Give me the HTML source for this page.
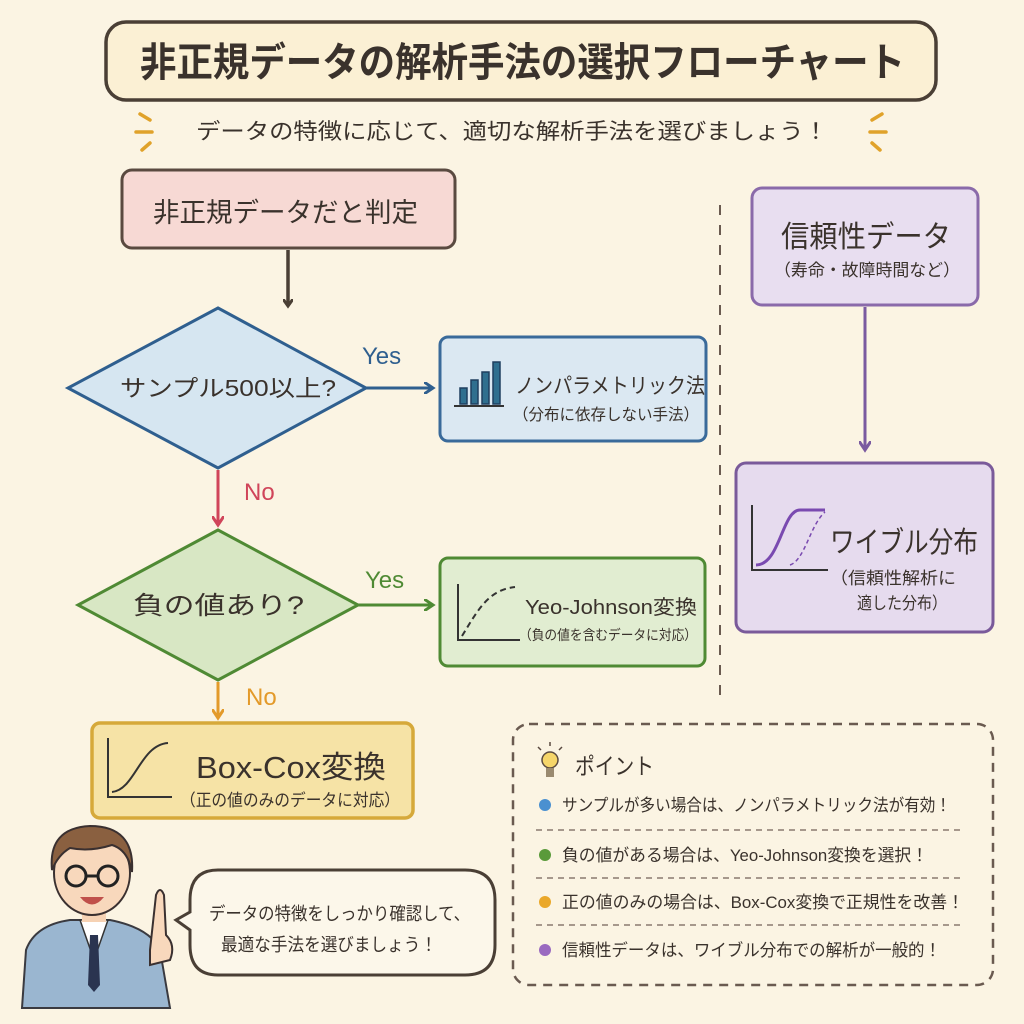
<!DOCTYPE html>
<html><head><meta charset="utf-8"><style>
html,body{margin:0;padding:0;background:#fbf4e3;}
svg{display:block;}
text{font-family:"Liberation Sans","Noto Sans CJK JP",sans-serif;fill:#3a322c;}
</style></head><body>
<svg width="1024" height="1024" viewBox="0 0 1024 1024" xmlns="http://www.w3.org/2000/svg">
<defs>
<marker id="ad" markerWidth="10" markerHeight="10" refX="6" refY="5" orient="auto" markerUnits="userSpaceOnUse"><path d="M0,0 L7,5 L0,10" fill="none" stroke="#4a3f35" stroke-width="3"/></marker>
<marker id="ab" markerWidth="12" markerHeight="12" refX="8" refY="6" orient="auto" markerUnits="userSpaceOnUse"><path d="M0,0 L9,6 L0,12" fill="none" stroke="#2f5f8f" stroke-width="3"/></marker>
<marker id="ar" markerWidth="12" markerHeight="12" refX="8" refY="6" orient="auto" markerUnits="userSpaceOnUse"><path d="M0,0 L9,6 L0,12" fill="none" stroke="#d0455a" stroke-width="3"/></marker>
<marker id="ag" markerWidth="12" markerHeight="12" refX="8" refY="6" orient="auto" markerUnits="userSpaceOnUse"><path d="M0,0 L9,6 L0,12" fill="none" stroke="#4f8a34" stroke-width="3"/></marker>
<marker id="ao" markerWidth="12" markerHeight="12" refX="8" refY="6" orient="auto" markerUnits="userSpaceOnUse"><path d="M0,0 L9,6 L0,12" fill="none" stroke="#e39a2a" stroke-width="3"/></marker>
<marker id="ap" markerWidth="12" markerHeight="12" refX="8" refY="6" orient="auto" markerUnits="userSpaceOnUse"><path d="M0,0 L9,6 L0,12" fill="none" stroke="#7a5aa0" stroke-width="3"/></marker>
</defs>
<rect width="1024" height="1024" fill="#fbf4e3"/>
<!-- title -->
<rect x="106" y="22" width="830" height="78" rx="20" fill="#fbf0d4" stroke="#4a3f35" stroke-width="3.5"/>
<text x="140" y="76" font-size="40" font-weight="bold" textLength="765" lengthAdjust="spacingAndGlyphs">非正規データの解析手法の選択フローチャート</text>
<text x="196" y="139" font-size="22" textLength="632" lengthAdjust="spacingAndGlyphs">データの特徴に応じて、適切な解析手法を選びましょう！</text>
<g stroke="#e0a22a" stroke-width="3.5" stroke-linecap="round">
<path d="M140,114 L150,120 M136,132 L152,132 M142,150 L150,143"/>
<path d="M882,114 L872,120 M886,132 L870,132 M880,150 L872,143"/>
</g>
<!-- pink -->
<rect x="122" y="170" width="333" height="78" rx="10" fill="#f7d9d4" stroke="#5a4a40" stroke-width="3"/>
<text x="153" y="222" font-size="27" textLength="265" lengthAdjust="spacingAndGlyphs">非正規データだと判定</text>
<line x1="288" y1="250" x2="288" y2="305" stroke="#4a3f35" stroke-width="3.5" marker-end="url(#ad)"/>
<!-- blue diamond -->
<polygon points="218,308 366,388 218,468 68,388" fill="#d6e6f1" stroke="#2f5f8f" stroke-width="3"/>
<text x="120" y="396" font-size="23" textLength="216" lengthAdjust="spacingAndGlyphs">サンプル500以上?</text>
<line x1="366" y1="388" x2="432" y2="388" stroke="#2f5f8f" stroke-width="3" marker-end="url(#ab)"/>
<text x="362" y="364" font-size="24" style="fill:#2f5f8f">Yes</text>
<rect x="440" y="337" width="266" height="104" rx="8" fill="#dbe8f2" stroke="#3a6a9a" stroke-width="3"/>
<g fill="#2f6f8f" stroke="#1f3f5f" stroke-width="1.5">
<rect x="460" y="388" width="7" height="16"/><rect x="471" y="380" width="7" height="24"/><rect x="482" y="372" width="7" height="32"/><rect x="493" y="362" width="7" height="42"/>
</g>
<line x1="454" y1="406" x2="504" y2="406" stroke="#333" stroke-width="2"/>
<text x="515" y="393" font-size="21" textLength="190" lengthAdjust="spacingAndGlyphs">ノンパラメトリック法</text>
<text x="513" y="420" font-size="16" textLength="186" lengthAdjust="spacingAndGlyphs">（分布に依存しない手法）</text>
<line x1="218" y1="470" x2="218" y2="524" stroke="#d0455a" stroke-width="3" marker-end="url(#ar)"/>
<text x="244" y="500" font-size="24" style="fill:#d0455a">No</text>
<!-- green diamond -->
<polygon points="218,530 358,605 218,680 78,605" fill="#d8e7c4" stroke="#4f8a34" stroke-width="3"/>
<text x="133" y="614" font-size="25" textLength="171" lengthAdjust="spacingAndGlyphs">負の値あり?</text>
<line x1="358" y1="605" x2="432" y2="605" stroke="#4f8a34" stroke-width="3" marker-end="url(#ag)"/>
<text x="365" y="588" font-size="24" style="fill:#4f8a34">Yes</text>
<rect x="440" y="558" width="265" height="108" rx="8" fill="#e1edd1" stroke="#4f8a34" stroke-width="3"/>
<path d="M458,584 L458,640 L520,640" fill="none" stroke="#333" stroke-width="2"/>
<path d="M462,636 C478,610 488,590 515,587" fill="none" stroke="#333" stroke-width="2" stroke-dasharray="6,4"/>
<text x="525" y="614" font-size="20" textLength="172" lengthAdjust="spacingAndGlyphs">Yeo-Johnson変換</text>
<text x="519" y="640" font-size="14" textLength="178" lengthAdjust="spacingAndGlyphs">（負の値を含むデータに対応）</text>
<line x1="218" y1="682" x2="218" y2="717" stroke="#e39a2a" stroke-width="3" marker-end="url(#ao)"/>
<text x="246" y="705" font-size="24" style="fill:#e39a2a">No</text>
<!-- box-cox -->
<rect x="92" y="723" width="321" height="95" rx="8" fill="#f6e3a6" stroke="#d6a93a" stroke-width="3.5"/>
<path d="M108,738 L108,797 L172,797" fill="none" stroke="#333" stroke-width="2"/>
<path d="M112,792 C135,790 140,745 168,743" fill="none" stroke="#333" stroke-width="2"/>
<text x="196" y="778" font-size="31" textLength="190" lengthAdjust="spacingAndGlyphs">Box-Cox変換</text>
<text x="180" y="806" font-size="17" textLength="220" lengthAdjust="spacingAndGlyphs">（正の値のみのデータに対応）</text>
<!-- divider -->
<line x1="720" y1="205" x2="720" y2="705" stroke="#6a5a50" stroke-width="2" stroke-dasharray="10,10"/>
<!-- reliability -->
<rect x="752" y="188" width="226" height="117" rx="10" fill="#e8def0" stroke="#8a6aaa" stroke-width="3"/>
<text x="781" y="247" font-size="30" textLength="170" lengthAdjust="spacingAndGlyphs">信頼性データ</text>
<text x="774" y="276" font-size="17" textLength="186" lengthAdjust="spacingAndGlyphs">（寿命・故障時間など）</text>
<line x1="865" y1="307" x2="865" y2="449" stroke="#7a5aa0" stroke-width="3" marker-end="url(#ap)"/>
<rect x="736" y="463" width="257" height="169" rx="10" fill="#e6dbee" stroke="#7a5a9a" stroke-width="3"/>
<path d="M752,505 L752,570 L828,570" fill="none" stroke="#333" stroke-width="2"/>
<path d="M756,565 C780,565 782,510 800,510 L825,510" fill="none" stroke="#7a4ab0" stroke-width="3"/>
<path d="M790,565 C805,560 810,525 825,512" fill="none" stroke="#7a4ab0" stroke-width="1.5" stroke-dasharray="4,3"/>
<text x="830" y="552" font-size="29" textLength="148" lengthAdjust="spacingAndGlyphs">ワイブル分布</text>
<text x="830" y="584" font-size="17" textLength="126" lengthAdjust="spacingAndGlyphs">（信頼性解析に</text>
<text x="857" y="609" font-size="17" textLength="90" lengthAdjust="spacingAndGlyphs">適した分布）</text>
<!-- points -->
<rect x="513" y="724" width="480" height="261" rx="16" fill="none" stroke="#6a5a50" stroke-width="2.5" stroke-dasharray="9,7"/>
<circle cx="550" cy="760" r="8" fill="#f6d66a" stroke="#5a4a40" stroke-width="1.5"/>
<rect x="546" y="768" width="8" height="9" fill="#9a8a70"/>
<g stroke="#5a4a40" stroke-width="1.5"><path d="M550,742 L550,746 M538,747 L541,750 M562,747 L559,750"/></g>
<text x="575" y="774" font-size="23" textLength="79" lengthAdjust="spacingAndGlyphs">ポイント</text>
<g font-size="17">
<circle cx="545" cy="805" r="6" fill="#4a90d0"/><text x="562" y="811" textLength="389" lengthAdjust="spacingAndGlyphs">サンプルが多い場合は、ノンパラメトリック法が有効！</text>
<circle cx="545" cy="855" r="6" fill="#5a9a3a"/><text x="562" y="861" textLength="366" lengthAdjust="spacingAndGlyphs">負の値がある場合は、Yeo-Johnson変換を選択！</text>
<circle cx="545" cy="902" r="6" fill="#eaa82a"/><text x="562" y="908" textLength="402" lengthAdjust="spacingAndGlyphs">正の値のみの場合は、Box-Cox変換で正規性を改善！</text>
<circle cx="545" cy="950" r="6" fill="#9a6ac0"/><text x="562" y="956" textLength="379" lengthAdjust="spacingAndGlyphs">信頼性データは、ワイブル分布での解析が一般的！</text>
</g>
<g stroke="#8a7a70" stroke-width="1.5" stroke-dasharray="6,5">
<line x1="536" y1="830" x2="965" y2="830"/><line x1="536" y1="878" x2="965" y2="878"/><line x1="536" y1="925" x2="965" y2="925"/>
</g>
<!-- character -->
<path d="M22,1008 L26,950 Q35,925 70,920 L110,920 Q150,928 160,950 L170,1008 Z" fill="#9ab6d0" stroke="#3a3a40" stroke-width="2"/>
<path d="M80,920 L94,960 L108,920 Z" fill="#fff" stroke="#333" stroke-width="1.5"/>
<path d="M90,935 L98,935 L100,985 L94,992 L88,985 Z" fill="#2a3450"/>
<rect x="82" y="900" width="24" height="22" fill="#f6d2b4"/>
<ellipse cx="92" cy="873" rx="38" ry="42" fill="#f8d8bc" stroke="#3a3030" stroke-width="2"/>
<path d="M52,870 Q48,828 90,826 Q135,826 132,872 Q128,850 112,845 Q90,852 70,848 Q58,855 52,870 Z" fill="#8a6040" stroke="#3a3030" stroke-width="2"/>
<circle cx="76" cy="876" r="10" fill="none" stroke="#222" stroke-width="3"/>
<circle cx="108" cy="876" r="10" fill="none" stroke="#222" stroke-width="3"/>
<line x1="86" y1="876" x2="98" y2="876" stroke="#222" stroke-width="3"/>
<path d="M80,897 Q92,912 104,897 Z" fill="#c0504a"/>
<path d="M150,950 L156,895 Q160,885 164,895 L166,935 Q176,945 170,960 L150,965 Z" fill="#f8d8bc" stroke="#3a3030" stroke-width="2"/>
<!-- bubble -->
<path d="M218,870 L465,870 Q495,870 495,900 L495,945 Q495,975 465,975 L218,975 Q190,975 190,945 L190,930 L176,920 L190,912 L190,900 Q190,870 218,870 Z" fill="#fcf7ea" stroke="#4a3f35" stroke-width="3"/>
<text x="209" y="920" font-size="18" textLength="261" lengthAdjust="spacingAndGlyphs">データの特徴をしっかり確認して、</text>
<text x="221" y="951" font-size="18" textLength="216" lengthAdjust="spacingAndGlyphs">最適な手法を選びましょう！</text>
</svg>
</body></html>
